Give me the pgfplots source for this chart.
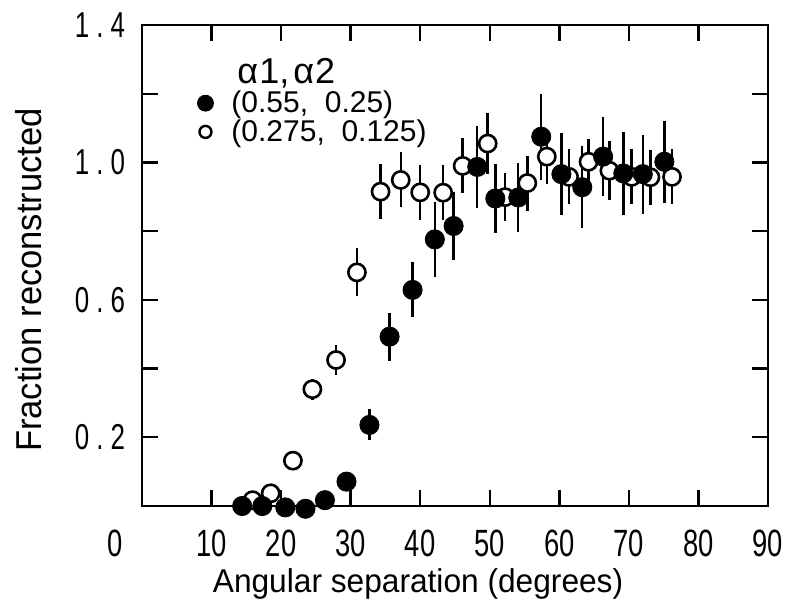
\documentclass[border=0pt]{standalone}
\usepackage{fontspec}
\setmainfont{Liberation Sans}
\newfontfamily\narrowfont{Liberation Sans}[FakeStretch=0.72]
\newfontfamily\labelfont{Liberation Sans}[FakeStretch=0.96]
\usepackage{pgfplots}
\usepackage{pgfplotstable}
\pgfplotsset{compat=1.18}

% filled circles: alpha1,alpha2 = (0.55, 0.25)
\pgfplotstableread{
x y e
14.4 0.000 0
17.3 0.000 0
20.6 -0.004 0
23.5 -0.008 0
26.3 0.017 0
29.4 0.071 0
32.7 0.236 0.045
35.6 0.493 0.07
38.9 0.629 0.08
42.1 0.776 0.11
44.8 0.815 0.10
48.2 0.987 0.12
50.8 0.895 0.10
54.1 0.898 0.10
57.4 1.075 0.125
60.3 0.966 0.12
63.3 0.928 0.12
66.3 1.017 0.115
69.2 0.968 0.12
72.0 0.966 0.115
75.1 1.002 0.12
}\filleddata

% open circles: alpha1,alpha2 = (0.275, 0.125)
\pgfplotstableread{
x y e
15.9 0.017 0
18.5 0.037 0
21.7 0.132 0
24.5 0.340 0.03
27.9 0.425 0.045
30.9 0.680 0.07
34.3 0.915 0.08
37.2 0.949 0.08
40.0 0.913 0.08
43.3 0.912 0.08
46.1 0.990 0.08
49.7 1.055 0.09
52.2 0.899 0.07
55.4 0.940 0.08
58.2 1.017 0.08
61.4 0.958 0.08
64.2 1.002 0.065
67.2 0.976 0.085
70.4 0.958 0.08
73.1 0.957 0.08
76.2 0.958 0.08
}\opendata

\begin{document}
\begin{tikzpicture}
\begin{axis}[
  scale only axis,
  width=313pt, height=240.5pt,
  xmin=0, xmax=90, ymin=0, ymax=1.4,
  clip=false,
  axis line style={line width=1.2pt, black},
  every tick/.style={black, line width=1.2pt},
  major tick length=8pt, minor tick length=8pt,
  xtick={10,20,30,40,50,60,70,80,90},
  xticklabels={10,20,30,40,50,60,70,80,90},
  ytick={0.2,0.6,1.0,1.4},
  yticklabels={0\hspace{3.5pt}.\hspace{3.5pt}2, 0\hspace{3.5pt}.\hspace{3.5pt}6, 1\hspace{3.5pt}.\hspace{3.5pt}0, 1\hspace{3.5pt}.\hspace{3.5pt}4},
  minor ytick={0.4,0.8,1.2},
  extra x ticks={0}, extra x tick labels={0},
  extra x tick style={major tick length=0pt, xticklabel style={xshift=-13.5pt}},
  /pgf/number format/assume math mode=true,
  x tick label style={font=\narrowfont\fontsize{19}{19}\selectfont, yshift=-8.5pt},
  y tick label style={font=\narrowfont\fontsize{18}{18}\selectfont, xshift=-5pt},
  xlabel={Angular separation (degrees)},
  ylabel={Fraction reconstructed},
  xlabel style={font=\labelfont\fontsize{16.5}{16.5}\selectfont, at={(axis description cs:0.441,-0.163)}, anchor=center},
  ylabel style={font=\labelfont\fontsize{18}{18}\selectfont, at={(axis description cs:-0.1805,0.47)}, anchor=center},
  legend style={draw=none, fill=none, at={(axis description cs:0.0735,0.935)}, anchor=north west,
    font=\fontsize{15}{15}\selectfont, inner sep=0pt, row sep=0pt, column sep=8pt, nodes={inner sep=1pt}},
  legend cell align=left,
]
% open circles: error bars then marks
\addplot[forget plot, only marks, mark=none, black,
  error bars/.cd, y dir=both, y explicit, error mark=none,
  error bar style={line width=1.2pt, black}]
  table[x=x, y=y, y error=e] {\opendata};
\addplot[forget plot, only marks, mark=*, mark size=4.3pt,
  mark options={fill=white, draw=black, line width=1.3pt}]
  table[x=x, y=y] {\opendata};
% filled circles: error bars then marks
\addplot[forget plot, only marks, mark=none, black,
  error bars/.cd, y dir=both, y explicit, error mark=none,
  error bar style={line width=1.2pt, black}]
  table[x=x, y=y, y error=e] {\filleddata};
\addplot[forget plot, only marks, mark=*, mark size=4.8pt,
  mark options={fill=black, draw=black}]
  table[x=x, y=y] {\filleddata};

\addlegendimage{empty legend}
\addlegendentry{\fontsize{18}{18}\selectfont\hspace{3pt}α\hspace{0.5pt}1,\hspace{2pt}α\hspace{0.5pt}2}
\addlegendimage{only marks, mark=*, mark size=4pt, black, mark options={fill=black}}
\addlegendentry{(0.55,\ \ 0.25)}
\addlegendimage{only marks, mark=*, mark size=3pt, black, mark options={fill=white, line width=1.2pt}}
\addlegendentry{(0.275,\ \ 0.125)}
\end{axis}
\pgfresetboundingbox
\path[use as bounding box] (-71pt,-50.5pt) rectangle (321.5pt,253pt);
\end{tikzpicture}
\end{document}
